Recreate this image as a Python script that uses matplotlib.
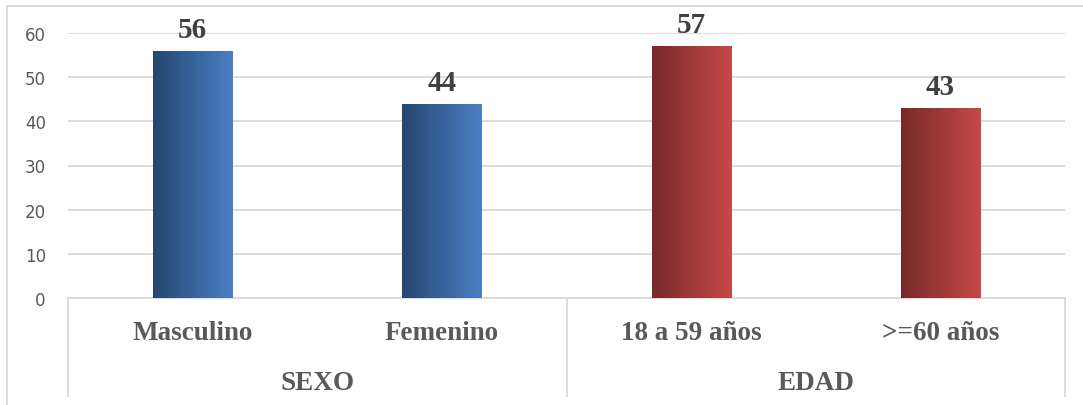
import numpy as np
import matplotlib
matplotlib.use("Agg")
import matplotlib.pyplot as plt
from matplotlib.colors import LinearSegmentedColormap
from matplotlib.patches import Rectangle
import matplotlib.transforms as mtransforms

# Data
categories = ["Masculino", "Femenino", "18 a 59 años", ">=60 años"]
groups = ["SEXO", "EDAD"]
group_sizes = [2, 2]
values = [56, 44, 57, 43]
yticks = [0, 10, 20, 30, 40, 50, 60]

W, H = 1083, 406
fig = plt.figure(figsize=(W / 100, H / 100), dpi=100)
fig.patch.set_facecolor("white")

# light chart frame (open at right and bottom edges)
frame = Rectangle((7 / W, -0.05), 1.2, (H - 7) / H + 0.05,
                  transform=fig.transFigure, fill=False,
                  edgecolor="#d9d9d9", linewidth=1.3)
fig.patches.append(frame)

left, right = 68 / W, 1065 / W
bottom, top = 1 - 299 / H, 1 - 34 / H
ax = fig.add_axes([left, bottom, right - left, top - bottom])
for s in ax.spines.values():
    s.set_visible(False)
ax.set_yticks(yticks)
ax.set_yticklabels([str(t) for t in yticks], fontsize=12, color="#595959",
                   family="DejaVu Sans")
ax.tick_params(axis="y", length=0, pad=16)
ax.set_xticks([])
ax.grid(axis="y", color="#d9d9d9", linewidth=1.3)
ax.set_axisbelow(True)

blue = LinearSegmentedColormap.from_list("b", ["#25466f", "#4a80c4"])
red = LinearSegmentedColormap.from_list("r", ["#76292a", "#c64a47"])
cmaps = [blue, blue, red, red]

x = np.arange(len(categories))
bars = ax.bar(x, values, width=0.317, color="none", zorder=2)
grad = np.linspace(0, 1, 256).reshape(1, -1)
for b, cm, v in zip(bars, cmaps, values):
    x0, w, h = b.get_x(), b.get_width(), b.get_height()
    im = ax.imshow(grad, cmap=cm, aspect="auto", extent=[x0, x0 + w, 0, h],
                   zorder=3, interpolation="bicubic")
    im.set_clip_path(b)
    ax.text(x0 + w / 2, h + 1.8, str(v), ha="center", va="bottom",
            fontsize=21, fontweight="bold", color="#404040",
            family="Liberation Serif", zorder=4)
ax.set_xlim(-0.5, len(categories) - 0.5)
ax.set_ylim(0, 60)

# multi-level category axis below the plot
trans = mtransforms.blended_transform_factory(ax.transData, ax.transAxes)
depth = -(397 - 299) / (299 - 34)
bounds = [-0.5]
for n in group_sizes:
    bounds.append(bounds[-1] + n)
for bx in bounds:
    ax.plot([bx, bx], [0, depth], transform=trans, color="#d9d9d9",
            linewidth=1.3, clip_on=False)
ax.plot([-0.5, len(categories) - 0.5], [0, 0], transform=trans,
        color="#d9d9d9", linewidth=1.3, clip_on=False, zorder=1)

lab_y = -(333 - 299) / (299 - 34)
grp_y = -(383 - 299) / (299 - 34)
for xi, c in zip(x, categories):
    ax.text(xi, lab_y, c, transform=trans, ha="center", va="center",
            fontsize=19.5, fontweight="bold", color="#595959",
            family="Liberation Serif")
for i, g in enumerate(groups):
    cx = (bounds[i] + bounds[i + 1]) / 2
    ax.text(cx, grp_y, g, transform=trans, ha="center", va="center",
            fontsize=19.5, fontweight="bold", color="#595959",
            family="Liberation Serif")

fig.savefig("out.png", dpi=100)
